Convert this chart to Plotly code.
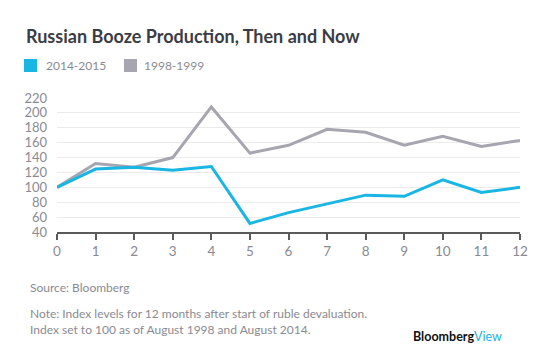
import plotly.graph_objects as go

months = list(range(0, 13))
s2014 = [100, 124.5, 127, 123, 128, 51.5, 66, 77.5, 89.5, 88, 110, 93, 100]
s1998 = [100, 132, 127, 140, 208, 146, 156.5, 178, 174, 156.5, 168.5, 155, 163]
names = ["2014-2015", "1998-1999"]
colors = ["#19b5e3", "#a7a6b0"]
yticks = list(range(40, 221, 20))

W, H = 552, 356
L, R, T, B = 49, 40, 90, 132
fig = go.Figure()
for vals, name, c in zip([s2014, s1998][::-1], names[::-1], colors[::-1]):
    fig.add_trace(go.Scatter(x=months, y=vals, mode="lines", name=name,
                             line=dict(color=c, width=3), showlegend=False))

font = "Lato"
fig.update_layout(
    width=W, height=H, margin=dict(l=L, r=R, t=T, b=B, autoexpand=False),
    paper_bgcolor="white", plot_bgcolor="white",
    font=dict(family=font, color="#8a8a92", size=13),
    xaxis=dict(range=[0, 12], tickvals=months, showgrid=False, zeroline=False,
               showline=True, linecolor="#5a5a5a", linewidth=1.5,
               ticks="outside", ticklen=6, tickcolor="#5a5a5a", tickwidth=1.5,
               tickfont=dict(size=13.5, color="#8a8a92")),
    yaxis=dict(range=[40, 220], tickvals=yticks, showgrid=True, gridcolor="#ebebeb",
               zeroline=False, showline=False, ticks="", ticklabelstandoff=9,
               tickfont=dict(size=13, color="#8a8a92")),
)

PW, PH = W - L - R, H - T - B
def px(x):
    return (x - L) / PW
def py(y):
    return (H - B - y) / PH

anns = [
    dict(text="<b>Russian Booze Production, Then and Now</b>", x=px(16), y=py(28),
         font=dict(size=18, color="#3c3c44", family=font)),
    dict(text=names[0], x=px(36), y=py(57.5), font=dict(size=12, color="#8a8a92")),
    dict(text=names[1], x=px(134), y=py(57.5), font=dict(size=12, color="#8a8a92")),
    dict(text="Source: Bloomberg", x=px(20), y=py(279), font=dict(size=12, color="#8a8a92")),
    dict(text="Note: Index levels for 12 months after start of ruble devaluation.", x=px(20), y=py(305),
         font=dict(size=12, color="#8a8a92")),
    dict(text="Index set to 100 as of August 1998 and August 2014.", x=px(20), y=py(321),
         font=dict(size=12, color="#8a8a92")),
    dict(text="<b>Bloomberg</b><span style='color:#19b5e3'>View</span>", x=px(403), y=py(328),
         font=dict(size=12.5, color="#111111", family=font)),
]
for a in anns:
    a.update(xref="paper", yref="paper", xanchor="left", yanchor="middle", showarrow=False)
    fig.add_annotation(**a)

fig.add_shape(type="rect", xref="paper", yref="paper", x0=px(16), x1=px(29), y0=py(64), y1=py(51),
              fillcolor=colors[0], line=dict(width=0))
fig.add_shape(type="rect", xref="paper", yref="paper", x0=px(116), x1=px(129), y0=py(64), y1=py(51),
              fillcolor=colors[1], line=dict(width=0))

fig.write_html("out.html")
